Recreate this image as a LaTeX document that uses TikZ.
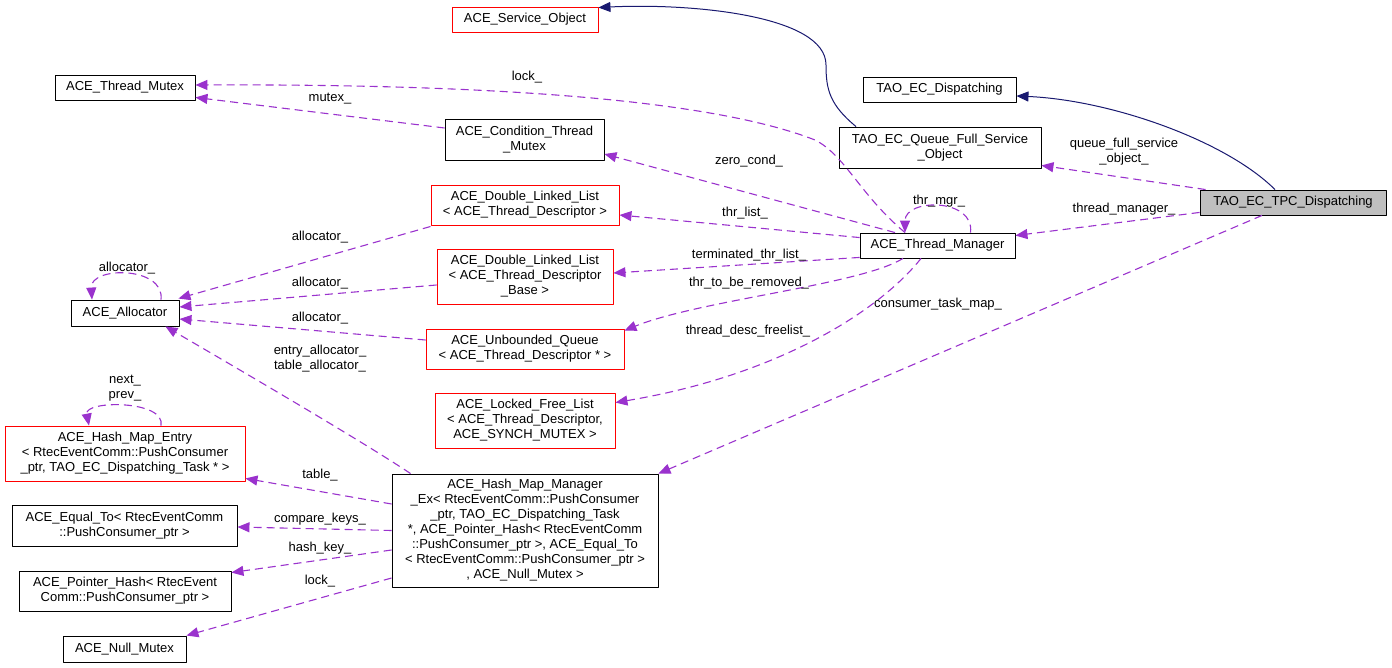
\documentclass[tikz,border=0pt]{standalone}
\usepackage{fontspec}
\setmainfont{Liberation Sans}
\usetikzlibrary{arrows.meta}

\begin{document}
\begin{tikzpicture}[x=1pt, y=-1pt, line join=round,
    every node/.style = {font=\fontsize{13}{15}\selectfont},
    cls/.style = {draw=black, line width=0.9pt, fill=white, align=center, inner sep=2pt},
    redcls/.style = {cls, draw=red},
    curcls/.style = {cls, fill=black!25},
    lbl/.style = {align=center, inner sep=0pt},
    inherit/.style = {draw={rgb,255:red,25;green,25;blue,112}, line width=1pt, -{Triangle[length=12pt,width=10pt]}},
    member/.style = {draw={rgb,255:red,154;green,50;blue,205}, line width=1.1pt, dash pattern=on 8pt off 5pt,
        -{Triangle[length=12pt,width=10pt]}}]
        \useasboundingbox (0,0) rectangle (1392,668);
        \node[redcls, minimum width=146pt, minimum height=25pt] at (525,19.5) (so) {ACE\_Service\_Object};
        \node[cls, minimum width=140pt, minimum height=25pt] at (125,87.5) (mtx) {ACE\_Thread\_Mutex};
        \node[cls, minimum width=153pt, minimum height=25pt] at (939.5,89.5) (disp) {TAO\_EC\_Dispatching};
        \node[cls, minimum width=159pt, minimum height=41pt] at (524.5,139.5) (cond) {ACE\_Condition\_Thread\\\_Mutex};
        \node[cls, minimum width=202pt, minimum height=41pt] at (940,147.5) (qfso) {TAO\_EC\_Queue\_Full\_Service\\\_Object};
        \node[curcls, minimum width=186pt, minimum height=25pt] at (1293,202.5) (tpc) {TAO\_EC\_TPC\_Dispatching};
        \node[redcls, minimum width=188pt, minimum height=40pt] at (525,205) (dlltd) {ACE\_Double\_Linked\_List\\< ACE\_Thread\_Descriptor >};
        \node[cls, minimum width=155pt, minimum height=25pt] at (937.5,245.5) (tm) {ACE\_Thread\_Manager};
        \node[cls, minimum width=108pt, minimum height=26pt] at (125,313) (alloc) {ACE\_Allocator};
        \node[redcls, minimum width=176pt, minimum height=55pt] at (525,276.5) (dllb) {ACE\_Double\_Linked\_List\\< ACE\_Thread\_Descriptor\\\_Base >};
        \node[redcls, minimum width=198pt, minimum height=40pt] at (525,349) (uq) {ACE\_Unbounded\_Queue\\< ACE\_Thread\_Descriptor * >};
        \node[redcls, minimum width=180pt, minimum height=55pt] at (525,420.5) (lfl) {ACE\_Locked\_Free\_List\\< ACE\_Thread\_Descriptor,\\ACE\_SYNCH\_MUTEX >};
        \node[redcls, minimum width=240pt, minimum height=55pt] at (125,453.5) (hme) {ACE\_Hash\_Map\_Entry\\< RtecEventComm::PushConsumer\\\_ptr, TAO\_EC\_Dispatching\_Task * >};
        \node[cls, minimum width=266pt, minimum height=113pt] at (525,530.5) (hmm) {ACE\_Hash\_Map\_Manager\\\_Ex< RtecEventComm::PushConsumer\\\_ptr, TAO\_EC\_Dispatching\_Task\\*, ACE\_Pointer\_Hash< RtecEventComm\\::PushConsumer\_ptr >, ACE\_Equal\_To\\< RtecEventComm::PushConsumer\_ptr >\\, ACE\_Null\_Mutex >};
        \node[cls, minimum width=225pt, minimum height=41pt] at (124.5,525.5) (eq) {ACE\_Equal\_To< RtecEventComm\\::PushConsumer\_ptr >};
        \node[cls, minimum width=212pt, minimum height=40pt] at (125,591) (ph) {ACE\_Pointer\_Hash< RtecEvent\\Comm::PushConsumer\_ptr >};
        \node[cls, minimum width=123pt, minimum height=26pt] at (124.5,649) (nm) {ACE\_Null\_Mutex};

        \draw[inherit] ([xshift=-18pt]tpc.north) .. controls (1225,140) and (1110,100) .. ([yshift=-6.5pt]disp.east);
        \draw[inherit] ([xshift=-84pt]qfso.north) .. controls (830,105) and (826,90) .. (826,65)
            .. controls (826,15) and (690,3) .. ([yshift=-1pt]so.north east);

        \draw[member] ([xshift=6pt]tpc.north west) -- ([yshift=3pt]qfso.south east);
        \draw[member] ([yshift=3pt]tpc.south west) -- ([yshift=-3pt]tm.north east);
        \draw[member] ([xshift=-31pt]tpc.south) -- (hmm.north east);
        \draw[member] ([xshift=-32.5pt]tm.north) .. controls (860,195) and (845,155) .. (815,140)
            .. controls (700,95) and (450,84) .. ([yshift=2.5pt]mtx.east);
        \draw[member] ([xshift=-42.5pt]tm.north) -- ([yshift=-14.5pt]cond.east);
        \draw[member] ([yshift=11.5pt]cond.west) -- ([yshift=3pt]mtx.south east);
        \draw[member] ([xshift=33pt]tm.north) .. controls (975,198) and (905,198) .. ([xshift=-32.5pt]tm.north);
        \draw[member] ([yshift=-5pt]tm.north west) -- ([yshift=-10pt]dlltd.east);
        \draw[member] ([yshift=1pt]tm.south west) -- ([yshift=3.5pt]dllb.east);
        \draw[member] ([xshift=-34.5pt]tm.south) .. controls (860,285) and (700,300) .. ([yshift=-2pt]uq.north east);
        \draw[member] ([xshift=-16.5pt]tm.south) .. controls (880,310) and (780,375) .. ([yshift=-10pt]lfl.north east);
        \draw[member] ([yshift=-1pt]dlltd.south west) -- ([xshift=-1pt,yshift=1pt]alloc.north east);
        \draw[member] ([yshift=-8.5pt]dllb.west) -- ([yshift=6pt]alloc.east);
        \draw[member] ([yshift=9pt]uq.west) -- ([yshift=-6pt]alloc.east);
        \draw[member] ([xshift=36pt]alloc.north) .. controls (165,266) and (90,266) .. ([xshift=-33pt]alloc.north);
        \draw[member] ([xshift=19pt]hmm.north west) .. controls (360,440) and (240,370) .. ([xshift=-14pt]alloc.south east);
        \draw[member] ([xshift=36pt]hme.north) .. controls (166,400) and (84,400) .. ([xshift=-36pt]hme.north);
        \draw[member] ([yshift=26.5pt]hmm.west) -- ([yshift=3pt]hme.south east);
        \draw[member] (hmm.west) -- ([yshift=-1.5pt]eq.east);
        \draw[member] ([yshift=-19.5pt]hmm.west) -- ([yshift=-2pt]ph.north east);
        \draw[member] ([yshift=-47.5pt]hmm.west) -- (nm.north east);

        \node[lbl] at (1124,152) (l1) {queue\_full\_service\\\_object\_};
        \node[lbl] at (1124,209) (l2) {thread\_manager\_};
        \node[lbl] at (938,304) (l3) {consumer\_task\_map\_};
        \node[lbl] at (527,77) (l4) {lock\_};
        \node[lbl] at (749,161) (l5) {zero\_cond\_};
        \node[lbl] at (330,99) (l6) {mutex\_};
        \node[lbl] at (939,201) (l7) {thr\_mgr\_};
        \node[lbl] at (745,213) (l8) {thr\_list\_};
        \node[lbl] at (749,255) (l9) {terminated\_thr\_list\_};
        \node[lbl] at (749,283) (l10) {thr\_to\_be\_removed\_};
        \node[lbl] at (748,331) (l11) {thread\_desc\_freelist\_};
        \node[lbl] at (320,237) (l12) {allocator\_};
        \node[lbl] at (320,283) (l13) {allocator\_};
        \node[lbl] at (320,318) (l14) {allocator\_};
        \node[lbl] at (127,268) (l15) {allocator\_};
        \node[lbl] at (320,359) (l16) {entry\_allocator\_\\table\_allocator\_};
        \node[lbl] at (125,388) (l17) {next\_\\prev\_};
        \node[lbl] at (320,475) (l18) {table\_};
        \node[lbl] at (320,519) (l19) {compare\_keys\_};
        \node[lbl] at (320,548) (l20) {hash\_key\_};
        \node[lbl] at (320,581) (l21) {lock\_};
    \end{tikzpicture}
\end{document}
